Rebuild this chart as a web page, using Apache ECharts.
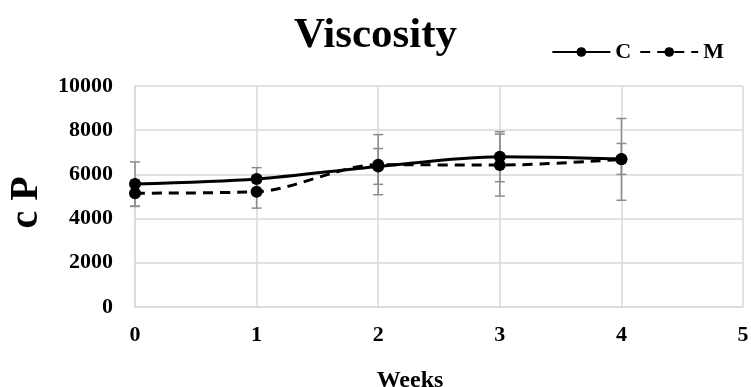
<!DOCTYPE html>
<html>
<head>
<meta charset="utf-8">
<script src="https://cdn.jsdelivr.net/npm/echarts@6/dist/echarts.min.js"></script>
<style>
html,body{margin:0;padding:0;background:#fff;}
#chart{width:751px;height:387px;}
</style>
</head>
<body>
<div id="chart"></div>
<script>
// data
var weeks = [0, 1, 2, 3, 4];
var cVals = [5565, 5790, 6360, 6800, 6700];
var cErr  = [1000, 515, 810, 1130, 700];
var mVals = [5150, 5215, 6440, 6420, 6680];
var mErr  = [600, 740, 1360, 1400, 1850];
var yTicks = [0, 2000, 4000, 6000, 8000, 10000];

var font = '"Liberation Serif", "Times New Roman", serif';

function pairs(xs, ys){
	var out = [];
	for (var i = 0; i < xs.length; i++) out.push([xs[i], ys[i]]);
	return out;
}
function errData(xs, ys, es){
	var out = [];
	for (var i = 0; i < xs.length; i++) out.push([xs[i], ys[i] - es[i], ys[i] + es[i]]);
	return out;
}
function renderErr(params, api){
	var x = api.value(0);
	var lo = api.coord([x, api.value(1)]);
	var hi = api.coord([x, api.value(2)]);
	var w = 5;
	var st = {stroke: '#8c8c8c', lineWidth: 1.5};
	return {
		type: 'group',
		children: [
			{type: 'line', shape: {x1: lo[0], y1: lo[1], x2: hi[0], y2: hi[1]}, style: st},
			{type: 'line', shape: {x1: lo[0] - w, y1: lo[1], x2: lo[0] + w, y2: lo[1]}, style: st},
			{type: 'line', shape: {x1: hi[0] - w, y1: hi[1], x2: hi[0] + w, y2: hi[1]}, style: st}
		]
	};
}

var chart = echarts.init(document.getElementById('chart'));
chart.setOption({
	animation: false,
	title: {
		text: 'Viscosity',
		left: 'center',
		top: 9,
		textStyle: {fontFamily: font, fontWeight: 'bold', fontSize: 43, color: '#000'}
	},
	legend: {
		data: ['C', 'M'],
		right: 22,
		top: 36,
		itemWidth: 58,
		itemHeight: 12,
		itemGap: 8,
		textStyle: {fontFamily: font, fontWeight: 'bold', fontSize: 22, color: '#000'}
	},
	grid: {left: 135, right: 8, top: 86, bottom: 80, outerBoundsMode: 'none', containLabel: false},
	xAxis: {
		type: 'value',
		min: 0, max: 5, interval: 1,
		name: 'Weeks',
		nameLocation: 'middle',
		nameGap: 62,
		nameTextStyle: {fontFamily: font, fontWeight: 'bold', fontSize: 24, color: '#000', padding: [0, 58, 0, 0]},
		axisLine: {show: true, lineStyle: {color: '#d9d9d9', width: 1.5}},
		axisTick: {show: false},
		axisLabel: {fontFamily: font, fontWeight: 'bold', fontSize: 22, color: '#000', margin: 17},
		splitLine: {show: true, lineStyle: {color: '#d9d9d9', width: 1.5}}
	},
	yAxis: {
		type: 'value',
		min: yTicks[0], max: yTicks[yTicks.length - 1], interval: 2000,
		name: 'c P',
		nameLocation: 'middle',
		nameGap: 88,
		nameTextStyle: {fontFamily: font, fontWeight: 'bold', fontSize: 40, color: '#000', padding: [0, 12, 0, 0]},
		axisLine: {show: true, lineStyle: {color: '#d9d9d9', width: 1.5}},
		axisTick: {show: false},
		axisLabel: {fontFamily: font, fontWeight: 'bold', fontSize: 22, color: '#000', margin: 22,
			formatter: function(v){ return String(v); }},
		splitLine: {show: true, lineStyle: {color: '#d9d9d9', width: 1.5}}
	},
	series: [
		{
			name: 'errC', type: 'custom', z: 1, silent: true,
			renderItem: renderErr, data: errData(weeks, cVals, cErr)
		},
		{
			name: 'errM', type: 'custom', z: 1, silent: true,
			renderItem: renderErr, data: errData(weeks, mVals, mErr)
		},
		{
			name: 'C', type: 'line', z: 3,
			smooth: 0.3,
			symbol: 'circle', symbolSize: 12,
			itemStyle: {color: '#000'},
			lineStyle: {color: '#000', width: 3},
			data: pairs(weeks, cVals)
		},
		{
			name: 'M', type: 'line', z: 2,
			smooth: 0.3,
			symbol: 'circle', symbolSize: 12,
			itemStyle: {color: '#000'},
			lineStyle: {color: '#000', width: 3, type: [10, 7]},
			data: pairs(weeks, mVals)
		}
	]
});
</script>
</body>
</html>
